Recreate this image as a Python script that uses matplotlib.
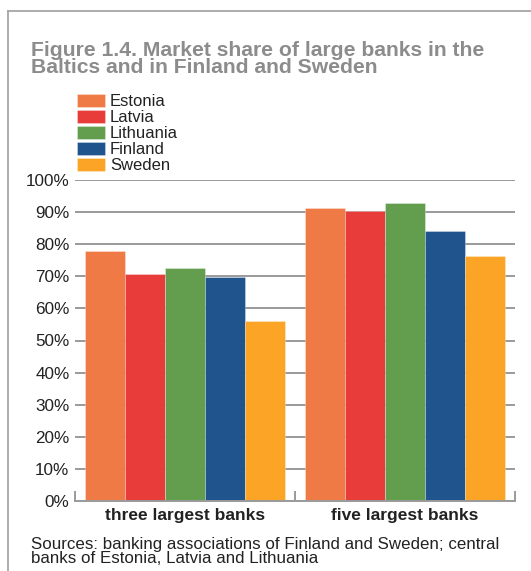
import matplotlib
matplotlib.use("Agg")
import matplotlib.pyplot as plt
import numpy as np
from matplotlib.lines import Line2D
from matplotlib.ticker import FuncFormatter, MultipleLocator

categories = ["three largest banks", "five largest banks"]
countries = ["Estonia", "Latvia", "Lithuania", "Finland", "Sweden"]
estonia = [77.9, 91.2]
latvia = [70.6, 90.3]
lithuania = [72.6, 92.9]
finland = [69.9, 84.1]
sweden = [56.1, 76.3]
series = [estonia, latvia, lithuania, finland, sweden]
colors = ["#F07A45", "#E83C3A", "#639E4E", "#1F548C", "#FCA425"]

plt.rcParams["font.family"] = ["Liberation Sans", "DejaVu Sans"]

W, H = 531, 571
fig = plt.figure(figsize=(W / 100, H / 100), dpi=100)
fig.patch.set_facecolor("white")

# panel frame: top and left rules
fig.add_artist(Line2D([8 / W, 1.0], [1 - 11 / H, 1 - 11 / H], color="#a6a6a6", lw=1.3))
fig.add_artist(Line2D([8 / W, 8 / W], [0.0, 1 - 11 / H], color="#a6a6a6", lw=1.3))

fig.text(31 / W, 1 - 41 / H,
         "Figure 1.4. Market share of large banks in the\nBaltics and in Finland and Sweden",
         ha="left", va="top", fontsize=15.2, fontweight="bold", color="#8c8c8c",
         linespacing=0.86)

ax = fig.add_axes([75 / W, 1 - 501 / H, 440 / W, 321 / H])
x = np.arange(len(categories))
bw = 0.182
handles = []
for i, (vals, c, name) in enumerate(zip(series, colors, countries)):
    b = ax.bar(x + (i - 2) * bw, vals, width=bw, color=c, edgecolor=(1, 1, 1, 0.35),
               linewidth=0.6, label=name, zorder=3)
    handles.append(b)

ax.set_xlim(-0.5, 1.5)
ax.set_ylim(0, 100)
ax.yaxis.set_major_locator(MultipleLocator(10))
ax.yaxis.set_major_formatter(FuncFormatter(lambda v, p: f"{v:.0f}%"))
ax.grid(axis="y", color="#9a9a9a", lw=1.4, zorder=0)
ax.set_axisbelow(True)
for s in ["top", "right", "left"]:
    ax.spines[s].set_visible(False)
ax.spines["bottom"].set_color("#9a9a9a")
ax.spines["bottom"].set_linewidth(1.4)
ax.spines["bottom"].set_zorder(4)

ax.tick_params(axis="y", length=0, pad=4, labelsize=12.3, labelcolor="#222222")
ax.set_xticks(x)
ax.set_xticklabels(categories, fontsize=12.5, fontweight="bold", color="#222222")
ax.tick_params(axis="x", length=0, pad=5)
ax.set_xticks([-0.5, 0.5, 1.5], minor=True)
ax.tick_params(axis="x", which="minor", direction="in", length=7, width=1.4,
               color="#9a9a9a")

fig.legend(handles=handles, labels=countries, loc="upper left",
           bbox_to_anchor=(77 / W, 1 - 94 / H), frameon=False, fontsize=12,
           borderpad=0, borderaxespad=0, handlelength=1.68, handleheight=0.78,
           handletextpad=0.3, labelspacing=0.06, labelcolor="#222222")

fig.text(31 / W, 1 - 537 / H,
         "Sources: banking associations of Finland and Sweden; central\nbanks of Estonia, Latvia and Lithuania",
         ha="left", va="top", fontsize=12.2, color="#222222", linespacing=0.9)

fig.savefig("out.png", dpi=100)
